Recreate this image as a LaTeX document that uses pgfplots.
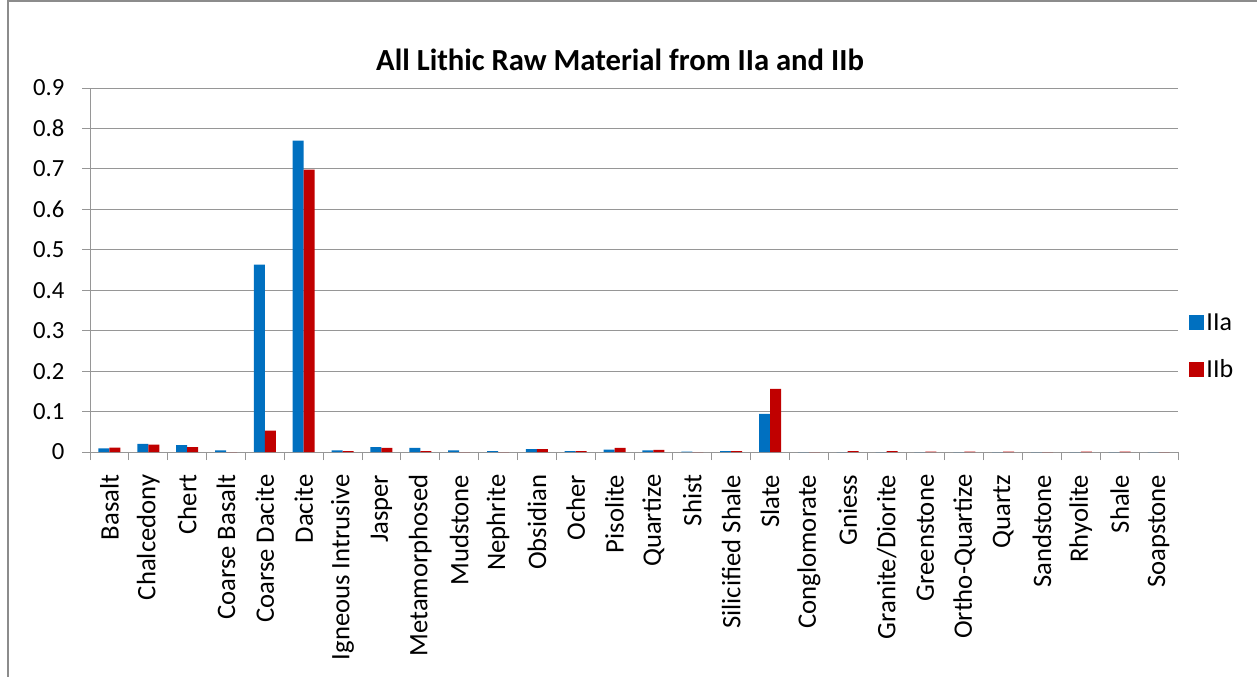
\documentclass[border=0pt]{standalone}
\usepackage{pgfplots}
\pgfplotsset{compat=1.18}
\usepackage{pgfplotstable}
\usepackage{fontspec}
\setmainfont{Carlito}

\definecolor{seriesA}{RGB}{0,112,192}
\definecolor{seriesB}{RGB}{192,0,0}
\definecolor{gridgray}{RGB}{150,150,150}
\definecolor{framegray}{RGB}{140,140,140}

% share of lithic raw material by stratum
\pgfplotstableread{
idx IIa IIb
0  0.009 0.011
1  0.020 0.018
2  0.017 0.012
3  0.004 0.000
4  0.463 0.053
5  0.770 0.698
6  0.004 0.002
7  0.012 0.010
8  0.010 0.002
9  0.004 0.000
10 0.002 0.000
11 0.007 0.007
12 0.002 0.002
13 0.006 0.010
14 0.004 0.005
15 0.001 0.000
16 0.002 0.002
17 0.094 0.156
18 0.000 0.000
19 0.000 0.002
20 0.000 0.002
21 0.000 0.001
22 0.000 0.001
23 0.000 0.001
24 0.000 0.000
25 0.000 0.001
26 0.000 0.001
27 0.000 0.000
}\lithic

\def\u{0.75pt}

\begin{document}
\begin{tikzpicture}
\path[use as bounding box] (0,0) rectangle (1257*\u,-677*\u);
% chart frame
\draw[framegray, line width=1.2*\u] (8*\u,-677*\u) -- (8*\u,-1*\u) -- (1257*\u,-1*\u);

\node[font=\fontsize{23}{26}\selectfont\bfseries] at (620*\u,-60*\u) {All Lithic Raw Material from IIa and IIb};

\begin{axis}[
  at={(90*\u,-452*\u)}, anchor=south west,
  scale only axis, width=1088*\u, height=364*\u,
  xmin=-0.5, xmax=27.5, ymin=0, ymax=0.9,
  ybar=0pt, bar width=11*\u,
  axis x line*=bottom, axis y line*=left,
  axis line style={gridgray, line width=1*\u},
  ytick={0,0.1,...,0.9},
  yticklabel style={/pgf/number format/fixed, /pgf/number format/precision=1, font=\fontsize{18.5}{20}\selectfont, xshift=-13*\u},
  /pgf/number format/assume math mode=true,
  ymajorgrids, grid style={gridgray, line width=1*\u},
  tick align=outside, major tick length=8*\u,
  tick style={gridgray, line width=1*\u},
  xtick={0,...,27},
  x tick style={draw=none},
  xticklabels={Basalt,Chalcedony,Chert,Coarse Basalt,Coarse Dacite,Dacite,Igneous Intrusive,Jasper,Metamorphosed,Mudstone,Nephrite,Obsidian,Ocher,Pisolite,Quartize,Shist,Silicified Shale,Slate,Conglomorate,Gniess,Granite/Diorite,Greenstone,Ortho-Quartize,Quartz,Sandstone,Rhyolite,Shale,Soapstone},
  xticklabel style={rotate=90, anchor=east, font=\fontsize{20}{22}\selectfont, yshift=0pt, xshift=-10*\u},
  extra x ticks={-0.5,0.5,...,27.5},
  extra x tick labels={},
  extra x tick style={x tick style={draw=gridgray, line width=1*\u}, grid=none},
  legend style={at={(1.006,0.29)}, anchor=west, draw=none, fill=none,
    font=\fontsize{19.5}{22}\selectfont, row sep=22*\u,
    /tikz/every even column/.append style={column sep=0pt}},
  legend image code/.code={\fill[#1] (0,-7.5*\u) rectangle (15*\u,7.5*\u);},
  legend cell align=left,
]
\addplot[fill=seriesA, draw=none] table[x=idx, y=IIa] {\lithic};
\addplot[fill=seriesB, draw=none] table[x=idx, y=IIb] {\lithic};
\legend{IIa,IIb}
\end{axis}
\end{tikzpicture}
\end{document}
